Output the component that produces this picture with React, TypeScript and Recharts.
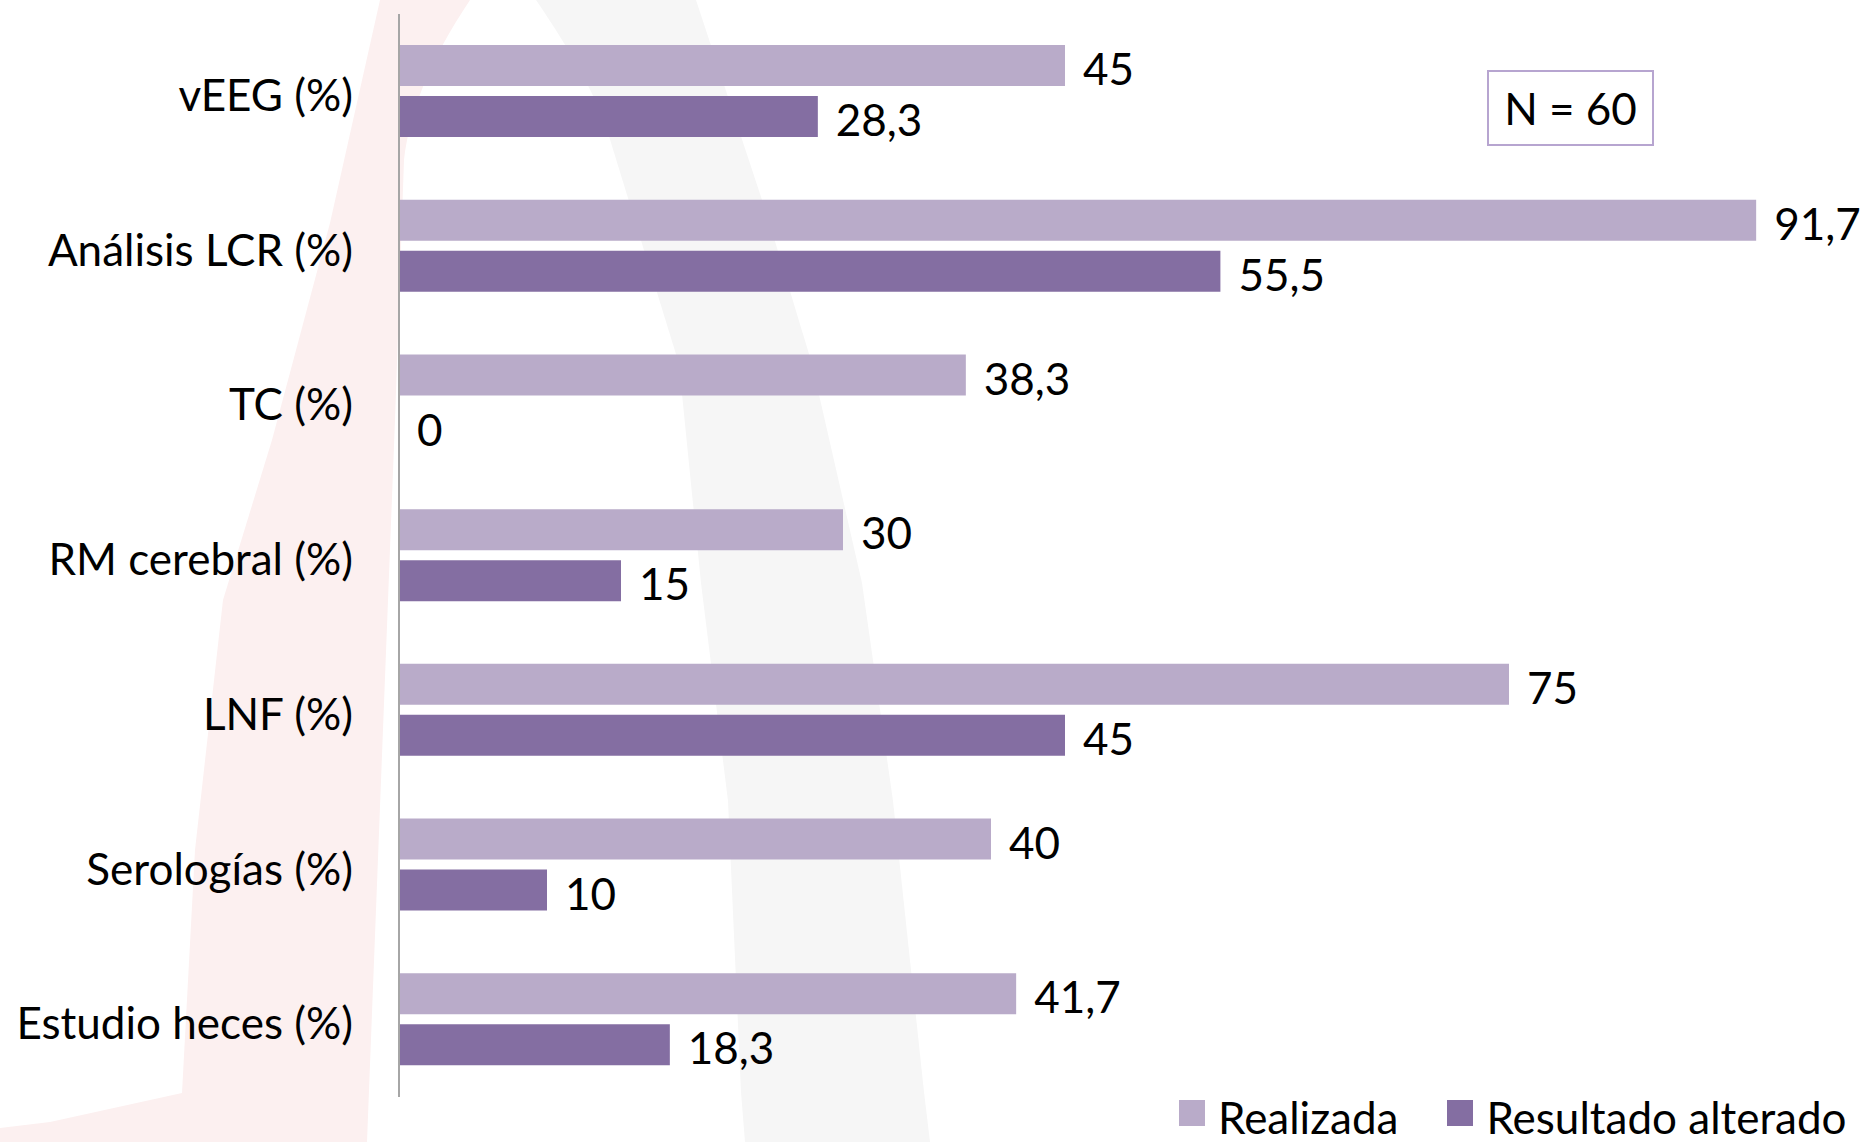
import { BarChart, Bar, XAxis, YAxis, Legend, LabelList } from "recharts";

const categories = [
  "vEEG (%)",
  "Análisis LCR (%)",
  "TC (%)",
  "RM cerebral (%)",
  "LNF (%)",
  "Serologías (%)",
  "Estudio heces (%)",
];
const realizada = [45, 91.7, 38.3, 30, 75, 40, 41.7];
const alterado = [28.3, 55.5, 0, 15, 45, 10, 18.3];

const data = categories.map((name, i) => ({
  name,
  realizada: realizada[i],
  alterado: alterado[i],
}));

const FONT = "Lato, 'Open Sans', sans-serif";
const FONT_SIZE = 44;
const LIGHT = "#b9abc9";
const DARK = "#846ea2";

const fmt = (v: number) => String(v).replace(".", ",");

function LegendContent({ payload }: any) {
  return (
    <div style={{ display: "flex", alignItems: "center", fontFamily: FONT, fontSize: FONT_SIZE, lineHeight: "48px", color: "#000" }}>
      {(payload || []).map((p: any, i: number) => (
        <div key={p.value} style={{ display: "flex", alignItems: "center", marginLeft: i ? 49 : 0 }}>
          <span style={{ display: "inline-block", width: 26, height: 26, background: p.color, marginRight: 13, position: "relative", top: -4 }} />
          <span>{p.value}</span>
        </div>
      ))}
    </div>
  );
}

// faint "A" watermark behind the chart
function Watermark() {
  return (
    <svg width={1863} height={1142} style={{ position: "absolute", left: 0, top: 0 }}>
      <path
        d="M380,0 L470,0 C430,60 410,110 404,160 L395,420 L367,1142 L0,1142 L0,1128 L50,1122 L182,1093 L195,850 L223,600 L272,440 L330,223 Z"
        fill="#fcf0f0"
      />
      <path
        d="M536,0 C570,50 600,100 612,146 L679,364 L701,583 L728,801 L741,1092 L745,1142 L930,1142 L924,1092 L893,801 L862,583 L812,364 L768,218 L696,0 Z"
        fill="#f6f6f6"
      />
    </svg>
  );
}

export default function App() {
  return (
    <div style={{ position: "relative", width: 1863, height: 1142, background: "#fff", overflow: "hidden" }}>
      <style>{`body{margin:0}`}</style>
      <Watermark />
      <BarChart
        width={1863}
        height={1142}
        data={data}
        layout="vertical"
        margin={{ top: 14, right: 58, bottom: 45, left: 0 }}
        barSize={41}
        barGap={10}
      >
        <XAxis type="number" domain={[0, 95]} hide />
        <YAxis
          type="category"
          dataKey="name"
          width={399}
          axisLine={{ stroke: "#a6a6a6", strokeWidth: 2 }}
          tickLine={false}
          tickSize={0}
          tickMargin={46}
          tick={{ fill: "#000", fontSize: FONT_SIZE, fontFamily: FONT, dy: 4 }}
        />
        <Legend
          layout="horizontal"
          verticalAlign="middle"
          align="center"
          content={<LegendContent />}
          wrapperStyle={{ left: 1179, top: 1093, width: 700, height: 48 }}
        />
        <Bar dataKey="realizada" name="Realizada" fill={LIGHT} isAnimationActive={false}>
          <LabelList dataKey="realizada" position="right" offset={18} dy={4} formatter={fmt} fill="#000" fontSize={FONT_SIZE} fontFamily={FONT} />
        </Bar>
        <Bar dataKey="alterado" name="Resultado alterado" fill={DARK} minPointSize={0.01} isAnimationActive={false}>
          <LabelList dataKey="alterado" position="right" offset={18} dy={4} formatter={fmt} fill="#000" fontSize={FONT_SIZE} fontFamily={FONT} />
        </Bar>
      </BarChart>
      <div
        style={{
          position: "absolute",
          left: 1487,
          top: 70,
          width: 167,
          height: 76,
          boxSizing: "border-box",
          border: "2px solid #b7a5d0",
          display: "flex",
          alignItems: "center",
          justifyContent: "center",
          fontFamily: FONT,
          fontSize: FONT_SIZE,
          color: "#000",
          background: "#fff",
        }}
      >
        N = 60
      </div>
    </div>
  );
}
